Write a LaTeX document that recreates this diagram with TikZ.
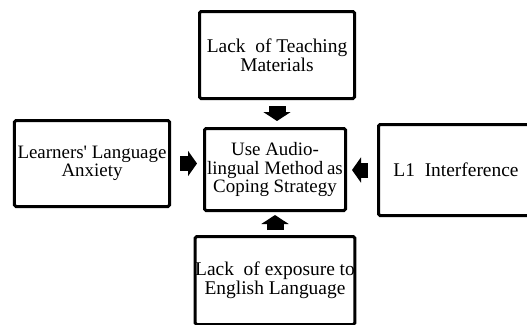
\documentclass[tikz,border=0pt]{standalone}
\usepackage{fontspec}
\setmainfont{Liberation Serif}
\usetikzlibrary{arrows.meta}
\begin{document}
\begin{tikzpicture}[x=1bp,y=-1bp,
  box/.style={draw=black,line width=3bp,rounded corners=1.5bp,align=center,
    inner sep=0pt,font=\fontsize{19.5}{19.5}\selectfont},
  blockarrowv/.style={line width=17bp,-{Triangle[width=27bp,length=9bp]}},
  blockarrowh/.style={line width=15bp,-{Triangle[width=25bp,length=9bp]}}]
\useasboundingbox (0,0) rectangle (527,324);
\begin{scope}
\clip (0,0) rectangle (527,324);
\node[box,minimum width=155bp,minimum height=87bp] (top) at (277,55) {Lack\ \ of Teaching\\Materials};
\node[box,minimum width=141bp,minimum height=82bp,font=\fontsize{19}{18.5}\selectfont] (center) at (275,169.5) {Use Audio-\\lingual Method\hspace{-1pt} as\\Coping Strategy};
\node[box,minimum width=155bp,minimum height=86bp,font=\fontsize{19}{16.5}\selectfont] (left) at (92,163.5) {Learners\textquotesingle{} Language\\Anxiety};
\node[box,minimum width=155bp,minimum height=91bp] (right) at (456,170) {L1\ \ Interference};
\node[box,minimum width=157bp,minimum height=88bp] (bottom) at (275,280.5) {Lack\ \ of exposure to\\English Language};
\end{scope}
\draw[blockarrowv,shorten <=6bp,shorten >=6bp] (top.south) -- (top.south |- center.north);
\draw[blockarrowv,shorten <=5bp,shorten >=3bp] (bottom.north) -- (bottom.north |- center.south);
\draw[blockarrowh,shorten <=9bp,shorten >=6bp] (left.east) -- (left.east -| center.west);
\draw[blockarrowh,shorten <=9bp,shorten >=5bp] (right.west) -- (right.west -| center.east);
\end{tikzpicture}
\end{document}
